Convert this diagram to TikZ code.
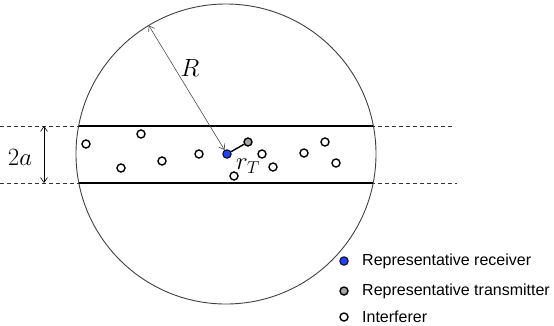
\documentclass[tikz,border=0pt]{standalone}
\usepackage{fontspec}
\setsansfont{Liberation Sans}
\usepackage{xcolor}
\usepackage{tikz}
\usetikzlibrary{arrows.meta}
\definecolor{rxblue}{RGB}{35,65,245}
\definecolor{txgray}{RGB}{165,165,165}

\begin{document}
\begin{tikzpicture}[x=1pt,y=-1pt,
  intf/.style={circle,draw,line width=1.4pt,inner sep=0pt,minimum size=8pt,fill=white},
  rxdot/.style={intf,fill=rxblue,line width=0.9pt,minimum size=8.5pt},
  txdot/.style={intf,fill=txgray},
  lab/.style={font=\fontsize{16}{18}\selectfont\sffamily,anchor=west,inner sep=0pt},
  sym/.style={font=\fontsize{23}{26}\selectfont,inner sep=0pt},
  band/.style={line width=1.6pt},
  ext/.style={dash pattern=on 4pt off 3pt,line width=0.7pt,black!80},
  dim/.style={{Straight Barb[length=5pt,width=7pt]}-{Straight Barb[length=5pt,width=7pt]},line width=0.6pt}
]
\useasboundingbox (0,0) rectangle (554,325);
\node[circle,draw,black!75,line width=0.9pt,minimum size=300pt,inner sep=0pt,outer sep=0pt] (cell) at (226,154) {};

\coordinate (el1) at (0,126);
\coordinate (er1) at (455,126);
\coordinate (el2) at (0,183);
\coordinate (er2) at (457,183);
\coordinate (bl1) at (78.6,126);
\coordinate (br1) at (373.4,126);
\coordinate (bl2) at (78.6,183);
\coordinate (br2) at (373.4,183);
\draw[ext] (el1) -- (er1);
\draw[ext] (el2) -- (er2);
\draw[band] (bl1) -- (br1);
\draw[band] (bl2) -- (br2);

\coordinate (wt) at (44,126);
\coordinate (wb) at (44,183);
\draw[dim] (wt) -- (wb);
\node[sym] (wlab) at (20,157) {$2a$};

\node[rxdot] (rx) at (227,154) {};
\node[txdot] (tx) at (248,142) {};
\draw[line width=1.4pt] (rx) -- (tx);
\draw[dim,black!70] (cell.121.4) -- (rx);
\node[sym] (rlab) at (190,68) {$R$};
\node[sym] (rtlab) at (248,166) {$r_T$};

\node[intf] (i1) at (86,144) {};
\node[intf] (i2) at (141,134) {};
\node[intf] (i3) at (121,168) {};
\node[intf] (i4) at (162,161) {};
\node[intf] (i5) at (199,154) {};
\node[intf] (i6) at (234,176) {};
\node[intf] (i7) at (262,154) {};
\node[intf] (i8) at (273,167) {};
\node[intf] (i9) at (304,153) {};
\node[intf] (i10) at (325,142) {};
\node[intf] (i11) at (336,163) {};

\node[rxdot] (k1) at (344,261) {};
\node[txdot] (k2) at (344,291) {};
\node[intf] (k3) at (344,317) {};
\node[lab] (t1) at (362,261) {Representative receiver};
\node[lab] (t2) at (362,291) {Representative transmitter};
\node[lab] (t3) at (362,317) {Interferer};
\end{tikzpicture}
\end{document}
